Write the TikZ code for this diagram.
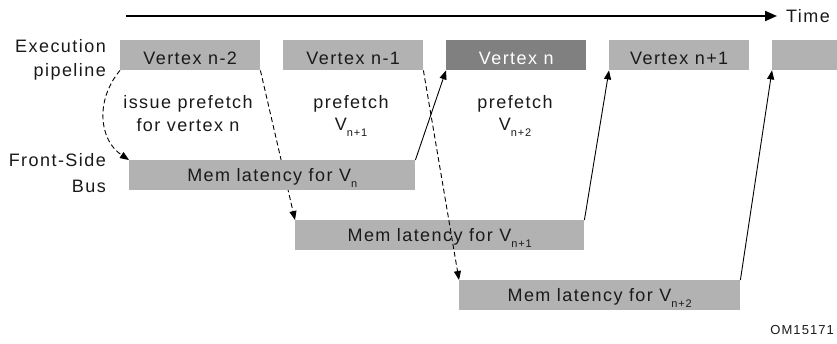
\documentclass[tikz,border=0pt]{standalone}
\usepackage{fontspec}
\setmainfont{Liberation Sans}[LetterSpace=8]
\usetikzlibrary{arrows.meta,backgrounds}
\definecolor{boxgray}{RGB}{178,178,178}
\definecolor{curgray}{RGB}{128,128,128}
\definecolor{inkgray}{RGB}{26,26,26}
\newcommand{\vsub}[1]{\raisebox{-6pt}{\fontsize{11}{11}\selectfont #1}}
\tikzset{
    vtx/.style={fill=boxgray, minimum width=140pt, minimum height=30pt, anchor=north west, text height=19pt, text depth=0pt},
    mem/.style={fill=boxgray, minimum height=30pt, anchor=north west, text height=13pt, text depth=0pt},
    lbl/.style={align=center},
    side/.style={align=right, anchor=east},
    fetch/.style={draw=black, line width=0.9pt, dash pattern=on 5pt off 3pt, -{Triangle[length=9pt,width=7pt]}},
    ready/.style={draw=black, line width=0.9pt, -{Triangle[length=9pt,width=7pt]}}
}
\begin{document}
\begin{tikzpicture}[x=1pt, y=-1pt, font=\fontsize{18}{23}\selectfont, text=inkgray,
        every node/.style={inner sep=0pt}]
    \useasboundingbox (0,0) rectangle (837,344);

    % time axis
    \coordinate (t0) at (126,16);
    \node[anchor=west] (time) at (786,16) {Time};
    \draw[line width=2pt, -{Triangle[length=12pt,width=10pt]}, shorten >=9pt] (t0) -- (time.west);

    % row labels
    \node[side, font=\fontsize{18}{24}\selectfont] (exe) at (106,60) {Execution\\pipeline};
    \node[side, font=\fontsize{18}{26}\selectfont] (fsb) at (106,173) {Front-Side\\Bus};

    % execution pipeline
    \node[vtx] (v2) at (120,40) {Vertex n-2};
    \node[vtx] (v1) at (283,40) {Vertex n-1};
    \node[vtx, fill=curgray, text=white] (v0) at (446,40) {Vertex n};
    \node[vtx] (vp1) at (609,40) {Vertex n+1};
    \node[vtx] (vp2) at (772,40) {};

    \node[lbl] (iss) at (188,114) {issue prefetch\\for vertex n};
    \node[lbl, font=\fontsize{18}{22}\selectfont] (pf1) at (351,116) {prefetch\\V\vsub{n+1}};
    \node[lbl, font=\fontsize{18}{22}\selectfont] (pf2) at (515,116) {prefetch\\V\vsub{n+2}};

    % front-side bus
    \node[mem, minimum width=286pt] (m0) at (129,160) {Mem latency for V\vsub{n}};
    \node[mem, minimum width=289pt] (m1) at (295,220) {Mem latency for V\vsub{n+1}};
    \node[mem, minimum width=281pt] (m2) at (459,280) {Mem latency for V\vsub{n+2}};

    \begin{pgfonlayer}{background}
        \draw[fetch] (v2.south east) -- (m1.north west);
    \end{pgfonlayer}
    \draw[fetch] (v2.south west) .. controls +(-25,30) and +(-30,-20) .. (m0.north west);
    \draw[fetch] (v1.south east) -- (m2.north west);

    \draw[ready] (m0.north east) -- (v0.south west);
    \draw[ready] (m1.north east) -- (vp1.south west);
    \draw[ready] (m2.north east) -- (vp2.south west);

    \node[anchor=east, font=\fontsize{13}{13}\selectfont] (tag) at (834,330) {OM15171};
\end{tikzpicture}
\end{document}
